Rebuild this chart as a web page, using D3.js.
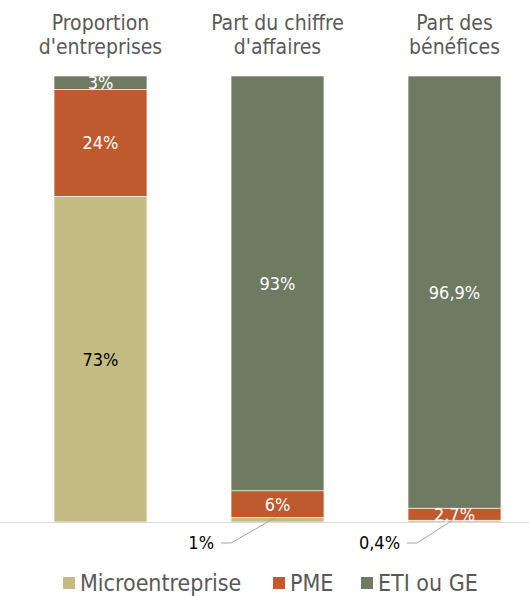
<!DOCTYPE html>
<html>
<head>
<meta charset="utf-8">
<script src="https://cdn.jsdelivr.net/npm/d3@7"></script>
<style>
  html, body { margin: 0; padding: 0; background: #fff; }
  svg { display: block; font-family: "DejaVu Sans Condensed", "DejaVu Sans", sans-serif; }
</style>
</head>
<body>
<svg id="chart" width="529" height="596"></svg>
<script>
// Column headings (each split over two lines)
const categories = ["Proportion d'entreprises", "Part du chiffre d'affaires", "Part des bénéfices"];
const headingLines = [["Proportion", "d'entreprises"], ["Part du chiffre", "d'affaires"], ["Part des", "bénéfices"]];

// Series values, in percent
const seriesNames = ["Microentreprise", "PME", "ETI ou GE"];
const microValues = [73, 1, 0.4];
const pmeValues = [24, 6, 2.7];
const etiValues = [3, 93, 96.9];

// Printed labels (French decimal comma)
const microLabels = ["73%", "1%", "0,4%"];
const pmeLabels = ["24%", "6%", "2,7%"];
const etiLabels = ["3%", "93%", "96,9%"];

const colors = ["#C4BC82", "#BE5A2D", "#6E7A61"];
const labelColors = ["#000000", "#FFFFFF", "#FFFFFF"];

// Gap between an outside label's right edge and its bar, per column
const outsideGap = [17, 17, 8];

const svg = d3.select("#chart");
const W = 529, baseY = 522, topY = 76;

const rows = categories.map((c, i) => ({
  cat: c, micro: microValues[i], pme: pmeValues[i], eti: etiValues[i]
}));
const keys = ["micro", "pme", "eti"];
const labels = { micro: microLabels, pme: pmeLabels, eti: etiLabels };

const x = d3.scaleBand().domain(categories).range([12, 543])
  .paddingInner(0.475).paddingOuter(0.2375);
const y = d3.scaleLinear().domain([0, 100]).range([baseY, topY]);

const stacked = d3.stack().keys(keys)(rows);

// Headings
const heads = svg.append("g").selectAll("text").data(categories).join("text")
  .attr("x", d => x(d) + x.bandwidth() / 2)
  .attr("text-anchor", "middle")
  .attr("fill", "#595959")
  .attr("font-size", 21);
heads.each(function (d, i) {
  d3.select(this).selectAll("tspan").data(headingLines[i]).join("tspan")
    .attr("x", x(d) + x.bandwidth() / 2)
    .attr("y", (t, j) => 30 + j * 24)
    .text(t => t);
});

// Stacked bars
const layers = svg.append("g").selectAll("g").data(stacked).join("g")
  .attr("fill", (d, i) => colors[i]);
layers.selectAll("rect").data(d => d).join("rect")
  .attr("x", d => x(d.data.cat))
  .attr("width", x.bandwidth())
  .attr("y", d => y(d[1]))
  .attr("height", d => y(d[0]) - y(d[1]))
  .attr("stroke", "#ffffff")
  .attr("stroke-width", 0.6);

// Baseline
svg.append("line")
  .attr("x1", 0).attr("x2", W)
  .attr("y1", baseY + 0.5).attr("y2", baseY + 0.5)
  .attr("stroke", "#D9D9D9").attr("stroke-width", 1.2);

// Segment labels: inside when the segment is tall enough, else outside with a leader line
const labelG = svg.append("g").attr("font-size", 18);
stacked.forEach((layer, li) => {
  layer.forEach((d, ci) => {
    const key = keys[li];
    const v = d.data[key];
    const cx = x(d.data.cat) + x.bandwidth() / 2;
    const text = labels[key][ci];
    if (v >= 2) {
      const cy = (y(d[0]) + y(d[1])) / 2;
      labelG.append("text")
        .attr("x", cx).attr("y", cy)
        .attr("dy", "0.36em")
        .attr("text-anchor", "middle")
        .attr("fill", labelColors[li])
        .text(text);
    } else {
      const tx = x(d.data.cat) - outsideGap[ci];
      const ty = baseY + 27;
      labelG.append("text")
        .attr("x", tx).attr("y", ty)
        .attr("text-anchor", "end")
        .attr("fill", "#000")
        .text(text);
      svg.append("polyline")
        .attr("points", [[tx + 7, ty - 6], [tx + 17, ty - 6], [cx - 2, y(d[1])]].map(p => p.join(",")).join(" "))
        .attr("fill", "none")
        .attr("stroke", "#A6A6A6").attr("stroke-width", 1);
    }
  });
});

// Legend
const legendPos = [63, 273, 361];
const legend = svg.append("g").selectAll("g").data(seriesNames).join("g")
  .attr("transform", (d, i) => `translate(${legendPos[i]},583)`);
legend.append("rect")
  .attr("x", 0).attr("y", -6).attr("width", 12).attr("height", 12)
  .attr("fill", (d, i) => colors[i]);
legend.append("text")
  .attr("x", 17).attr("y", 0).attr("dy", "0.36em")
  .attr("font-size", 23)
  .attr("fill", "#595959")
  .text(d => d);
</script>
</body>
</html>
